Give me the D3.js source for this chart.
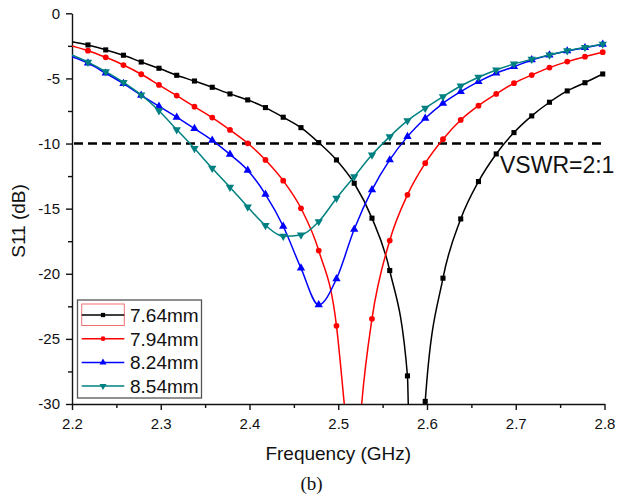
<!DOCTYPE html>
<html>
<head>
<meta charset="utf-8">
<script src="https://cdn.jsdelivr.net/npm/d3@7"></script>
<style>
  body { margin: 0; background: #fff; }
  svg { display: block; font-family: "Liberation Sans", Arial, sans-serif; }
  .ejes path, .ejes line { stroke: #111; stroke-width: 1.4; }
  .ejes text { font-size: 15px; fill: #111; }
</style>
</head>
<body>
<div id="graf"></div>
<script>
// marker frequencies (GHz)
const freqs = [2.218, 2.238, 2.258, 2.278, 2.298, 2.318, 2.338, 2.358, 2.378, 2.398,
  2.418, 2.438, 2.458, 2.478, 2.498, 2.518, 2.538, 2.558, 2.578, 2.598,
  2.618, 2.638, 2.658, 2.678, 2.698, 2.718, 2.738, 2.758, 2.778, 2.798]

const names = ["7.64mm", "7.94mm", "8.24mm", "8.54mm"]

const s764 = [-2.43, -2.81, -3.22, -3.74, -4.22, -4.76, -5.20, -5.68, -6.19, -6.65,
  -7.24, -7.98, -8.78, -9.93, -11.26, -13.05, -15.73, -19.75, -27.84, -29.8,
  -20.34, -15.79, -12.92, -10.80, -9.16, -7.88, -6.83, -5.96, -5.33, -4.66]
const s794 = [-2.87, -3.38, -3.97, -4.68, -5.50, -6.32, -7.17, -8.01, -8.96, -9.98,
  -11.26, -12.85, -14.97, -18.22, -24.0, -38.0, -23.46, -17.45, -13.94, -11.51,
  -9.67, -8.19, -7.09, -6.19, -5.37, -4.74, -4.17, -3.71, -3.33, -2.99]
const s824 = [-3.82, -4.60, -5.40, -6.30, -7.14, -7.98, -8.85, -9.75, -10.83, -12.05,
  -13.90, -16.35, -19.57, -22.39, -20.39, -16.58, -13.56, -11.26, -9.47, -8.06,
  -6.91, -6.02, -5.25, -4.60, -4.10, -3.58, -3.20, -2.89, -2.64, -2.38]
const s854 = [-3.75, -4.48, -5.30, -6.27, -7.48, -8.93, -10.38, -11.90, -13.35, -14.87,
  -16.28, -17.12, -17.02, -15.99, -14.20, -12.54, -10.87, -9.47, -8.24, -7.29,
  -6.40, -5.58, -4.91, -4.35, -3.89, -3.53, -3.20, -2.87, -2.61, -2.36]

// line points without markers (sweep start, dips below the axis)
const e764 = [[2.2, -2.18], [2.5789, -30], [2.5876, -45]]
const e794 = [[2.2, -2.51], [2.5068, -30], [2.5264, -30]]
const e824 = [[2.2, -3.33]]
const e854 = [[2.2, -3.20]]

const xTicks = [2.2, 2.3, 2.4, 2.5, 2.6, 2.7, 2.8]
const yTicks = [0, -5, -10, -15, -20, -25, -30]
const vswrLevel = -10

const series = [
  { name: names[0], vals: s764, extra: e764, color: "#000000", sym: d3.symbolSquare, size: 26, rot: 0 },
  { name: names[1], vals: s794, extra: e794, color: "#ff0000", sym: d3.symbolCircle, size: 26, rot: 0 },
  { name: names[2], vals: s824, extra: e824, color: "#0000ff", sym: d3.symbolTriangle, size: 30, rot: 0 },
  { name: names[3], vals: s854, extra: e854, color: "#008080", sym: d3.symbolTriangle, size: 30, rot: 180 }
]

const anchoTotal = 617
const altoTotal = 497
const mLeft = 72, mRight = 604.5, mTop = 13.3, mBottom = 404

const svg = d3.select("#graf").append("svg")
  .attr("width", anchoTotal)
  .attr("height", altoTotal)

const x = d3.scaleLinear().domain([2.2, 2.8]).range([mLeft, mRight])
const y = d3.scaleLinear().domain([-30, 0]).range([mBottom, mTop])

svg.append("clipPath").attr("id", "clip")
  .append("rect")
  .attr("x", mLeft).attr("y", 0)
  .attr("width", mRight - mLeft + 2).attr("height", mBottom)

// minor ticks
svg.append("g").attr("class", "ejes")
  .attr("transform", `translate(0, ${mBottom})`)
  .call(d3.axisBottom(x).tickValues(d3.range(2.25, 2.8, 0.1)).tickSize(4).tickFormat(""))
  .select(".domain").remove()
svg.append("g").attr("class", "ejes")
  .attr("transform", `translate(${mLeft}, 0)`)
  .call(d3.axisLeft(y).tickValues(d3.range(-27.5, 0, 5)).tickSize(4).tickFormat(""))
  .select(".domain").remove()

const fmt = (d) => String(d).replace("\u2212", "-")

svg.append("g").attr("class", "ejes")
  .attr("transform", `translate(0, ${mBottom})`)
  .call(d3.axisBottom(x).tickValues(xTicks).tickSize(6).tickSizeOuter(0).tickPadding(8).tickFormat(d3.format(".1f")))
svg.append("g").attr("class", "ejes")
  .attr("transform", `translate(${mLeft}, 0)`)
  .call(d3.axisLeft(y).tickValues(yTicks).tickSize(6).tickSizeOuter(0).tickPadding(6).tickFormat(fmt))

svg.append("line")
  .attr("x1", x(2.2) + 2).attr("x2", x(2.8))
  .attr("y1", y(vswrLevel)).attr("y2", y(vswrLevel))
  .attr("stroke", "#000")
  .attr("stroke-width", 2.6)
  .attr("stroke-dasharray", "9,5")

const line = d3.line()
  .x((d) => x(d[0]))
  .y((d) => y(d[1]))
  .curve(d3.curveMonotoneX)

series.forEach((s) => {
  const pts = freqs.map((f, i) => [f, s.vals[i]]).concat(s.extra).sort((a, b) => a[0] - b[0])
  svg.append("path")
    .datum(pts)
    .attr("d", line)
    .attr("fill", "none")
    .attr("stroke", s.color)
    .attr("stroke-width", 1.5)
    .attr("clip-path", "url(#clip)")

  svg.append("g").selectAll("path")
    .data(freqs.map((f, i) => [f, s.vals[i]]).filter((d) => d[1] >= -30))
    .join("path")
    .attr("d", d3.symbol().type(s.sym).size(s.size))
    .attr("transform", (d) => `translate(${x(d[0])}, ${y(d[1])}) rotate(${s.rot})`)
    .attr("fill", s.color)
})

svg.append("text")
  .attr("x", 500)
  .attr("y", 172.5)
  .attr("font-size", 23)
  .attr("fill", "#111")
  .text("VSWR=2:1")

svg.append("text")
  .attr("x", (mLeft + mRight) / 2)
  .attr("y", 460)
  .attr("text-anchor", "middle")
  .attr("font-size", 19)
  .attr("fill", "#111")
  .text("Frequency (GHz)")

svg.append("g")
  .attr("transform", `translate(25, 221)`)
  .append("text")
  .attr("transform", "rotate(-90)")
  .attr("text-anchor", "middle")
  .attr("font-size", 19)
  .attr("fill", "#111")
  .text("S11 (dB)")

svg.append("text")
  .attr("x", 311.5)
  .attr("y", 490)
  .attr("text-anchor", "middle")
  .attr("font-family", "'Liberation Serif', 'Times New Roman', serif")
  .attr("font-size", 19)
  .attr("fill", "#111")
  .text("(b)")

// legend
const leg = svg.append("g").attr("transform", "translate(77.5, 300)")
leg.append("rect")
  .attr("width", 124).attr("height", 98)
  .attr("fill", "#fff")
  .attr("stroke", "#555")
  .attr("stroke-width", 1.3)
leg.append("rect")
  .attr("x", 4.2).attr("y", 4)
  .attr("width", 42.6).attr("height", 21.5)
  .attr("fill", "none")
  .attr("stroke", "#f07070")
  .attr("stroke-width", 1)

const row = leg.selectAll(".row").data(series).join("g")
  .attr("class", "row")
  .attr("transform", (d, i) => `translate(0, ${15 + i * 23.7})`)
row.append("line")
  .attr("x1", 4.2).attr("x2", 46.8)
  .attr("stroke", (d) => d.color)
  .attr("stroke-width", 1.5)
row.append("path")
  .attr("d", (d) => d3.symbol().type(d.sym).size(d.size * 0.7)())
  .attr("transform", (d) => `translate(25.5, 0) rotate(${d.rot})`)
  .attr("fill", (d) => d.color)
row.append("text")
  .attr("x", 52.5)
  .attr("y", 6.8)
  .attr("font-size", 19)
  .attr("fill", "#111")
  .text((d) => d.name)
</script>
</body>
</html>
